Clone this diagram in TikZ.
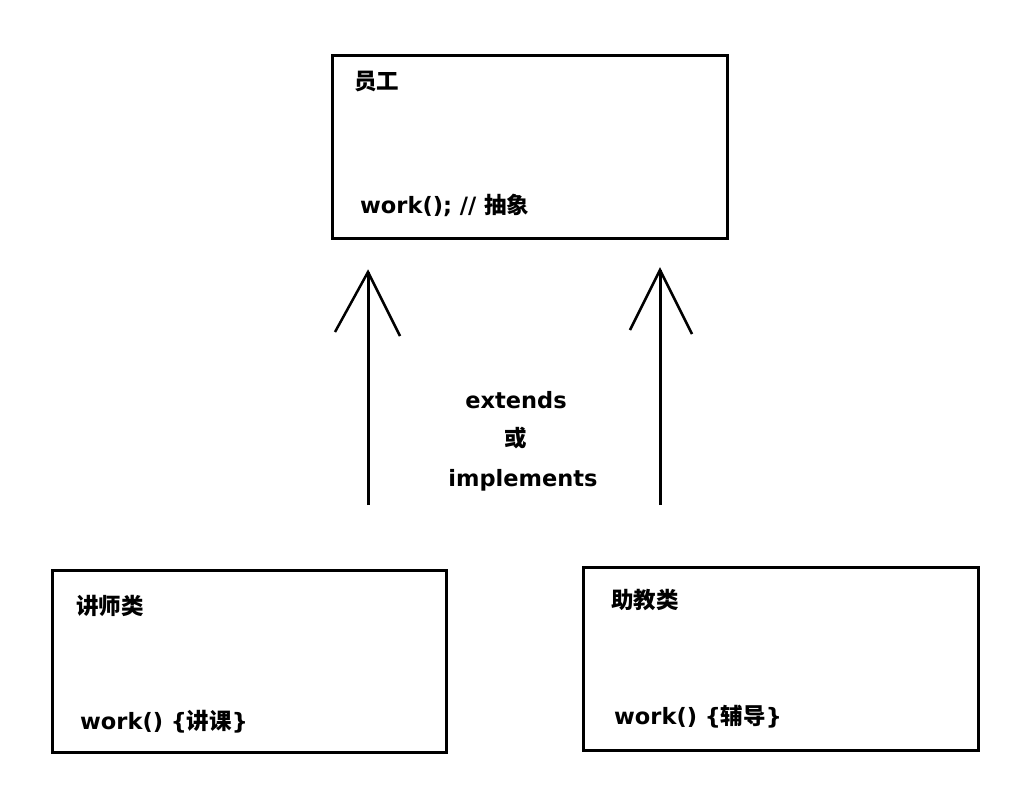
\documentclass[tikz,border=0pt]{standalone}
\usepackage{fontspec}
\setmainfont{DejaVu Sans}
\newfontfamily\cjk{Noto Sans CJK SC}
\begin{document}
\begin{tikzpicture}[x=1pt,y=-1pt,
  box/.style={draw,line width=3pt},
  lbl/.style={anchor=west,inner sep=0pt,font=\bfseries\fontsize{22.5}{26}\selectfont},
  arr/.style={line width=3pt},
  tip/.style={line width=2.5pt}]
\useasboundingbox (0,0) rectangle (1014,788);
\draw[box] (332,55) rectangle (727,238);
\draw[box] (52,570) rectangle (446,752);
\draw[box] (583,567) rectangle (978,750);
\node[lbl] (t1) at (354,82) {\cjk 员工};
\node[lbl] (t2) at (360,205) {work(); // {\cjk 抽象}};
\node[lbl] (l1) at (76,606) {\cjk 讲师类};
\node[lbl] (l2) at (80,722) {work() \{{\cjk 讲课}\}};
\node[lbl] (r1) at (611,600) {\cjk 助教类};
\node[lbl] (r2) at (614,717) {work() \{{\cjk 辅导}\}};
\node[lbl,anchor=center] (e1) at (516,400) {extends};
\node[lbl,anchor=center] (e2) at (516,438) {\cjk 或};
\node[lbl,anchor=center] (e3) at (523,480) {implements};
\coordinate (a1s) at (368,505); \coordinate (a1e) at (368,272);
\coordinate (a2s) at (660,505); \coordinate (a2e) at (660,270);
\draw[arr] (a1s) -- (a1e);
\draw[tip,line join=miter] (335,332) -- (a1e) -- (400,336);
\draw[arr] (a2s) -- (a2e);
\draw[tip,line join=miter] (630,330) -- (a2e) -- (692,334);
\end{tikzpicture}
\end{document}
